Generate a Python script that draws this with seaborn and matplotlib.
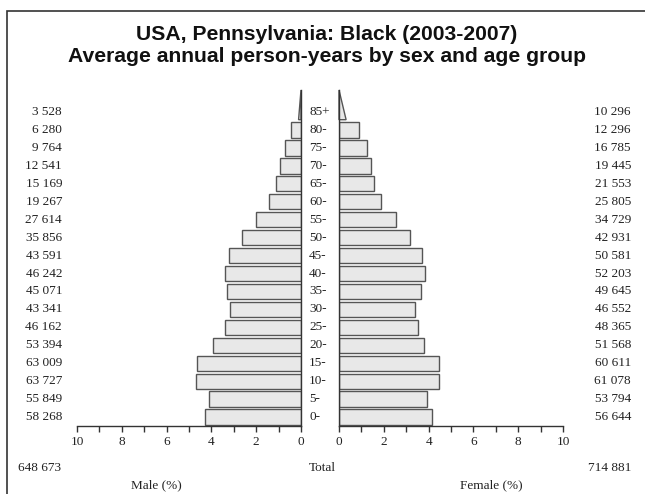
import matplotlib
matplotlib.use("Agg")
import matplotlib.pyplot as plt
from matplotlib import transforms
from matplotlib.patches import Rectangle
import pandas as pd
import seaborn as sns

# age groups, top to bottom (85+ is drawn as an open-ended triangle)
ages = ['85+', '80-', '75-', '70-', '65-', '60-', '55-', '50-', '45-', '40-',
        '35-', '30-', '25-', '20-', '15-', '10-', '5-', '0-']
male = [3528, 6280, 9764, 12541, 15169, 19267, 27614, 35856, 43591, 46242,
        45071, 43341, 46162, 53394, 63009, 63727, 55849, 58268]
female = [10296, 12296, 16785, 19445, 21553, 25805, 34729, 42931, 50581, 52203,
          49645, 46552, 48365, 51568, 60611, 61078, 53794, 56644]
male_total = 648673
female_total = 714881
ticks = [0, 2, 4, 6, 8, 10]

grand = male_total + female_total
df = pd.DataFrame({'age': ages,
                   'male': [v / grand * 100 for v in male],
                   'female': [v / grand * 100 for v in female]})
bars = df.iloc[1:]

sns.set_style('white')
serif = 'Liberation Serif'
fill = '#e8e8e8'
edge = '#555555'

fig = plt.figure(figsize=(6.45, 4.94), dpi=100)
W, H = 645, 494
ax_l = fig.add_axes([77 / W, 1 - 426 / H, 224 / W, 336 / H])
ax_r = fig.add_axes([339 / W, 1 - 426 / H, 224 / W, 336 / H])

for ax, col in [(ax_l, 'male'), (ax_r, 'female')]:
    sns.barplot(data=bars, x=col, y='age', order=ages[1:], orient='h', ax=ax,
                color=fill, edgecolor=edge, linewidth=1, width=0.85, saturation=1)
    # open-ended 85+ group drawn as a wedge
    w = df[col].iloc[0] * 0.42
    ax.fill([0, w, 0], [-1 + 0.425, -1 + 0.425, -2.23], facecolor=fill,
            edgecolor=edge, linewidth=1, clip_on=False)
    ax.set_ylim(16.5, -2.23)
    ax.set_xticks(range(0, 11))
    ax.set_xticklabels([str(t) if t in ticks else '' for t in range(0, 11)],
                       fontfamily=serif, fontsize=9.5)
    ax.tick_params(axis='x', bottom=True, direction='out', length=4, width=1,
                   color='#333333', pad=3, labelcolor='#222222')
    ax.set_yticks([])
    ax.set_xlabel('')
    ax.set_ylabel('')
    ax.patch.set_alpha(0)
    for s in ax.spines.values():
        s.set_color('#333333')
        s.set_linewidth(1)

ax_l.set_xlim(10, 0)
ax_r.set_xlim(0, 10)
ax_l.spines['left'].set_visible(False)
ax_l.spines['top'].set_visible(False)
ax_r.spines['right'].set_visible(False)
ax_r.spines['top'].set_visible(False)

# labels beside the bars
tr = transforms.blended_transform_factory(fig.transFigure, ax_l.transData)
txt = dict(fontfamily=serif, fontsize=9.5, color='#222222', va='center')
for i, a in enumerate(ages):
    y = i - 1
    fig.text(309 / W, y, a, transform=tr, ha='left', **txt)
    fig.text(62 / W, y, f"{male[i]:,}".replace(',', ' '), transform=tr, ha='right', **txt)
    fig.text(631 / W, y, f"{female[i]:,}".replace(',', ' '), transform=tr, ha='right', **txt)

fig.text(18 / W, 1 - 468 / H, f"{male_total:,}".replace(',', ' '), ha='left', **txt)
fig.text(309 / W, 1 - 468 / H, 'Total', ha='left', **txt)
fig.text(631 / W, 1 - 468 / H, f"{female_total:,}".replace(',', ' '), ha='right', **txt)
fig.text(156 / W, 1 - 485 / H, 'Male (%)', ha='center', **txt)
fig.text(491 / W, 1 - 485 / H, 'Female (%)', ha='center', **txt)

fig.text(327 / W, 1 - 35 / H, 'USA, Pennsylvania: Black (2003-2007)', ha='center',
         va='center', fontsize=15.2, fontweight='bold', fontfamily='Liberation Sans',
         color='#111111')
fig.text(327 / W, 1 - 56 / H, 'Average annual person-years by sex and age group',
         ha='center', va='center', fontsize=15.2, fontweight='bold',
         fontfamily='Liberation Sans', color='#111111')

# outer frame (open to the right and bottom)
fig.patches.append(Rectangle((7 / W, -0.2), 1.2, 1 - 11 / H + 0.2,
                             transform=fig.transFigure, fill=False,
                             edgecolor='#333333', linewidth=1.2))

fig.savefig('out.png', dpi=100)
